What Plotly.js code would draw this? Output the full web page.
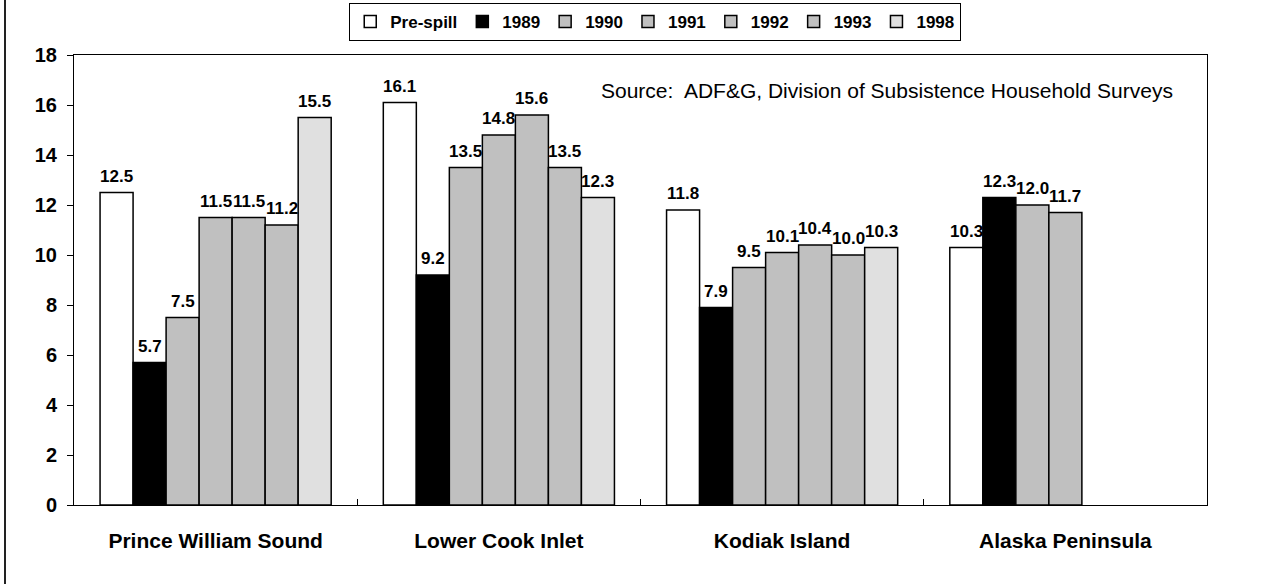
<!DOCTYPE html>
<html>
<head>
<meta charset="utf-8">
<script src="https://cdn.plot.ly/plotly-3.0.1.min.js"></script>
<style>html,body{margin:0;padding:0;background:#fff;}</style>
</head>
<body>
<div id="chart" style="width:1265px;height:584px;"></div>
<script>
const categories = ["Prince William Sound", "Lower Cook Inlet", "Kodiak Island", "Alaska Peninsula"];
const seriesNames = ["Pre-spill", "1989", "1990", "1991", "1992", "1993", "1998"];
const preSpill = [12.5, 16.1, 11.8, 10.3];
const y1989 = [5.7, 9.2, 7.9, 12.3];
const y1990 = [7.5, 13.5, 9.5, 12.0];
const y1991 = [11.5, 14.8, 10.1, 11.7];
const y1992 = [11.5, 15.6, 10.4, null];
const y1993 = [11.2, 13.5, 10.0, null];
const y1998 = [15.5, 12.3, 10.3, null];
const yTicks = [0, 2, 4, 6, 8, 10, 12, 14, 16, 18];
const sourceNote = "Source:  ADF&G, Division of Subsistence Household Surveys";

const seriesValues = [preSpill, y1989, y1990, y1991, y1992, y1993, y1998];
const seriesColors = ["#ffffff", "#000000", "#c0c0c0", "#c0c0c0", "#c0c0c0", "#c0c0c0", "#e0e0e0"];

const FONT = "Liberation Sans, Arial, sans-serif";
const bargap = 0.184;
const nSeries = seriesNames.length;
const barW = (1 - bargap) / nSeries;

const traces = seriesNames.map((name, i) => ({
  type: "bar",
  name: name,
  x: categories,
  y: seriesValues[i],
  marker: {color: seriesColors[i], line: {color: "#000", width: 1.5}},
  hoverinfo: "skip"
}));

const annotations = [];
seriesValues.forEach((vals, si) => {
  vals.forEach((v, ci) => {
    if (v === null || v === undefined) return;
    annotations.push({
      x: ci + (si - (nSeries - 1) / 2) * barW,
      y: v,
      xref: "x", yref: "y",
      text: v.toFixed(1),
      showarrow: false,
      yanchor: "bottom",
      xanchor: "center",
      yshift: 5,
      font: {family: FONT, size: 17, color: "#000", weight: "bold"}
    });
  });
});
annotations.push({
  x: 0.9718, y: 0.922, xref: "paper", yref: "paper",
  xanchor: "right", yanchor: "middle",
  text: sourceNote, showarrow: false,
  font: {family: FONT, size: 21, color: "#000"}
});

const layout = {
  width: 1265, height: 584,
  margin: {l: 74, r: 58, t: 55, b: 79, autoexpand: false},
  paper_bgcolor: "#fff", plot_bgcolor: "#fff",
  barmode: "group", bargap: bargap, bargroupgap: 0,
  font: {family: FONT, color: "#000"},
  showlegend: true,
  legend: {
    orientation: "h", x: 0.513, xanchor: "center", y: 1.1156, yanchor: "top",
    bgcolor: "#fff", bordercolor: "#000", borderwidth: 1,
    font: {family: FONT, size: 17, color: "#000", weight: "bold"},
    itemwidth: 30, tracegroupgap: 0
  },
  xaxis: {
    type: "category", tickson: "boundaries",
    ticks: "inside", ticklen: 6, tickcolor: "#000",
    showline: true, linecolor: "#000", linewidth: 1, mirror: true,
    showgrid: false, zeroline: false,
    ticklabelstandoff: 17,
    tickfont: {family: FONT, size: 21, color: "#000", weight: "bold"}
  },
  yaxis: {
    range: [0, 18], tickvals: yTicks, ticktext: yTicks.map(String),
    ticks: "outside", ticklen: 6, tickcolor: "#000",
    showline: true, linecolor: "#000", linewidth: 1, mirror: true,
    showgrid: false, zeroline: false,
    ticklabelstandoff: 6,
    tickfont: {family: FONT, size: 20, color: "#000", weight: "bold"}
  },
  annotations: annotations,
  shapes: [{
    type: "line", xref: "paper", yref: "paper",
    x0: -0.0609, x1: -0.0609, y0: -0.18, y1: 1.13,
    line: {color: "#222", width: 2}
  }]
};

Plotly.newPlot("chart", traces, layout, {displayModeBar: false, staticPlot: true});
</script>
</body>
</html>
